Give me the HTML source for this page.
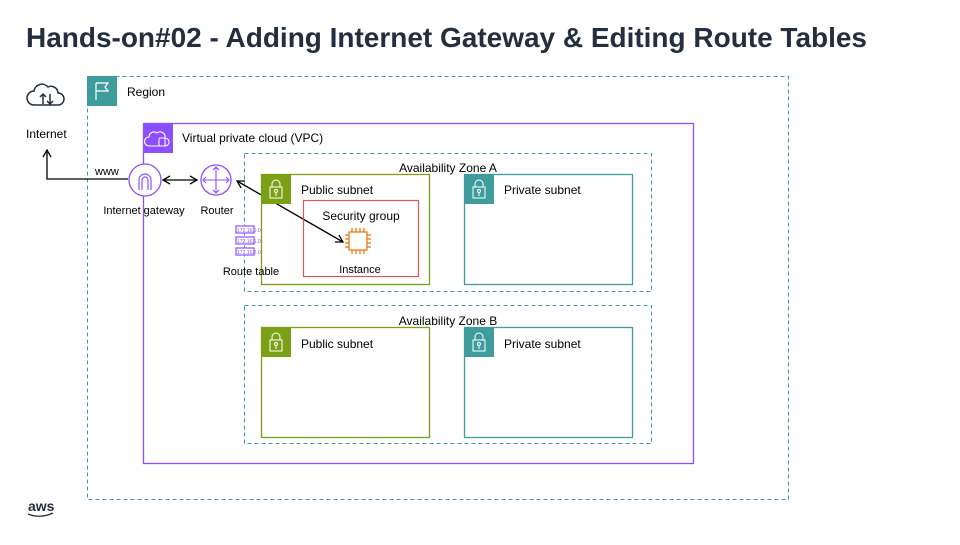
<!DOCTYPE html>
<html><head><meta charset="utf-8"><style>
body{margin:0;width:960px;height:540px;background:#fff;overflow:hidden;font-family:"Liberation Sans",Arial,sans-serif;}
</style></head><body>
<svg width="960" height="540" viewBox="0 0 960 540" xmlns="http://www.w3.org/2000/svg" font-family="Liberation Sans, Arial, sans-serif">
<defs>
<marker id="ah" markerWidth="10" markerHeight="10" refX="8" refY="5" orient="auto-start-reverse" markerUnits="userSpaceOnUse"><path d="M1,1 L8,5 L1,9" fill="none" stroke="#000" stroke-width="1.3"/></marker>
</defs>
<text x="26" y="47" font-size="28" font-weight="bold" fill="#232f3e" textLength="841">Hands-on#02 - Adding Internet Gateway &amp; Editing Route Tables</text>
<g fill="none" stroke="#232f3e" stroke-width="1.5">
<path d="M34,105 h24 a6,6 0 0 0 0,-12 a7,7 0 0 0 -10,-6 a8,8 0 0 0 -14,4 a7,7 0 0 0 0,14z"/>
<path d="M43,104 v-10 m-3,3 l3,-3 l3,3 M50,94 v10 m-3,-3 l3,3 l3,-3"/>
</g>
<text x="26" y="138" font-size="12" fill="#000">Internet</text>
<rect x="87.5" y="76.5" width="701" height="423" fill="none" stroke="#3f9c9c" stroke-width="1" stroke-dasharray="4,3"/>
<rect x="87" y="76" width="30" height="30" fill="#3f9c9c"/>
<path d="M96,100 V83 M96,83 h12 l-3,4 l3,4 h-12" fill="none" stroke="#fff" stroke-width="1.2"/>
<text x="127" y="96" font-size="12">Region</text>
<rect x="143.5" y="123.5" width="550" height="340" fill="none" stroke="#8c4fff" stroke-width="1.3"/>
<rect x="143" y="123" width="30" height="30" fill="#8c4fff"/>
<path d="M149,146 h16 a4,4 0 0 0 0,-8 a5,5 0 0 0 -8,-5 a5,5 0 0 0 -8,4 a4,4 0 0 0 0,9z" fill="none" stroke="#fff" stroke-width="1.1"/>
<rect x="159" y="138" width="6" height="8" rx="1" fill="none" stroke="#fff"/>
<text x="182" y="142" font-size="12">Virtual private cloud (VPC)</text>
<rect x="244.5" y="153.5" width="407" height="138" fill="none" stroke="#3f9c9c" stroke-dasharray="4,3"/>
<text x="448" y="172" font-size="12" text-anchor="middle">Availability Zone A</text>
<rect x="244.5" y="305.5" width="407" height="138" fill="none" stroke="#3f9c9c" stroke-dasharray="4,3"/>
<text x="448" y="325" font-size="12" text-anchor="middle">Availability Zone B</text>
<path d="M128,179 H47 V150" fill="none" stroke="#000" stroke-width="1.3" marker-end="url(#ah)"/>
<text x="95" y="175" font-size="11">www</text>
<line x1="163" y1="180" x2="197" y2="180" stroke="#000" stroke-width="1.3" marker-start="url(#ah)" marker-end="url(#ah)"/>
<line x1="237" y1="181" x2="343" y2="242" stroke="#000" stroke-width="1.3" marker-start="url(#ah)" marker-end="url(#ah)"/>
<g fill="none" stroke-width="1.3">
<rect x="261.5" y="174.5" width="168" height="110" stroke="#7aa116"/>
<rect x="464.5" y="174.5" width="168" height="110" stroke="#3f9c9c"/>
<rect x="261.5" y="327.5" width="168" height="110" stroke="#7aa116"/>
<rect x="464.5" y="327.5" width="168" height="110" stroke="#3f9c9c"/>
</g>
<rect x="261" y="174" width="30" height="30" fill="#7aa116"/>
<rect x="464" y="174" width="30" height="30" fill="#3f9c9c"/>
<rect x="261" y="327" width="30" height="30" fill="#7aa116"/>
<rect x="464" y="327" width="30" height="30" fill="#3f9c9c"/>
<g fill="none" stroke="#fff" stroke-width="1">
<g transform="translate(261,174)"><rect x="9" y="13" width="12" height="11"/><path d="M11,13 v-3 a4,4 0 0 1 8,0 v3"/><circle cx="15" cy="17" r="1.5"/><path d="M15,19 v3"/></g>
<g transform="translate(464,174)"><rect x="9" y="13" width="12" height="11"/><path d="M11,13 v-3 a4,4 0 0 1 8,0 v3"/><circle cx="15" cy="17" r="1.5"/><path d="M15,19 v3"/></g>
<g transform="translate(261,327)"><rect x="9" y="13" width="12" height="11"/><path d="M11,13 v-3 a4,4 0 0 1 8,0 v3"/><circle cx="15" cy="17" r="1.5"/><path d="M15,19 v3"/></g>
<g transform="translate(464,327)"><rect x="9" y="13" width="12" height="11"/><path d="M11,13 v-3 a4,4 0 0 1 8,0 v3"/><circle cx="15" cy="17" r="1.5"/><path d="M15,19 v3"/></g>
</g>
<text x="301" y="194" font-size="12">Public subnet</text>
<text x="504" y="194" font-size="12">Private subnet</text>
<text x="301" y="348" font-size="12">Public subnet</text>
<text x="504" y="348" font-size="12">Private subnet</text>
<rect x="303.5" y="200.5" width="115" height="76" fill="none" stroke="#d6585b" stroke-width="1.2"/>
<text x="361" y="220" font-size="12" text-anchor="middle">Security group</text>
<g stroke="#ed7100" stroke-width="1.2" fill="none">
<rect x="349" y="232" width="18" height="18"/>
<path d="M352,228v4M356,228v4M360,228v4M364,228v4M352,250v4M356,250v4M360,250v4M364,250v4M345,235h4M345,239h4M345,243h4M345,247h4M367,235h4M367,239h4M367,243h4M367,247h4"/>
</g>
<text x="360" y="273" font-size="11" text-anchor="middle">Instance</text>
<circle cx="145" cy="180" r="16" fill="#fff" stroke="#8c4fff" stroke-width="1.3"/>
<path d="M139,190 v-10 a6,6 0 0 1 12,0 v10 M142,190 v-10 a3,3 0 0 1 6,0 v10" fill="none" stroke="#8c4fff" stroke-width="1.2"/>
<text x="144" y="214" font-size="11" text-anchor="middle">Internet gateway</text>
<circle cx="216" cy="180" r="15" fill="#fff" stroke="#8c4fff" stroke-width="1.3"/>
<path d="M203,180h26M216,167v26M206,177l-3,3l3,3M226,177l3,3l-3,3M213,170l3,-3l3,3M213,190l3,3l3,-3" fill="none" stroke="#8c4fff" stroke-width="1.1"/>
<text x="217" y="214" font-size="11" text-anchor="middle">Router</text>
<g fill="#fff" stroke="#8c4fff" stroke-width="1.2">
<rect x="236" y="226" width="18" height="7"/><rect x="236" y="237" width="18" height="7"/><rect x="236" y="248" width="18" height="7"/>
</g>
<g font-size="5" fill="#8c4fff"><text x="237" y="232">172.16.0.0</text><text x="237" y="243">172.16.1.0</text><text x="237" y="254">172.16.2.0</text></g>
<text x="251" y="275" font-size="11" text-anchor="middle">Route table</text>
<text x="28" y="511" font-size="14" fill="#232f3e" font-weight="bold">aws</text>
<path d="M28,514 q12,5 25,-1" fill="none" stroke="#232f3e" stroke-width="1.3"/>
</svg>
</body></html>
